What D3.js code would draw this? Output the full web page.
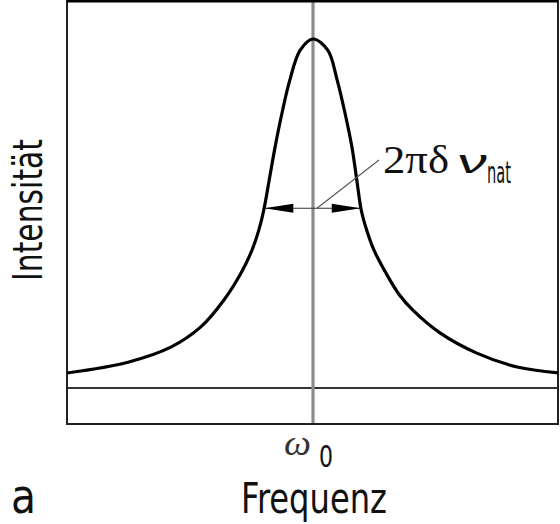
<!DOCTYPE html>
<html>
<head>
<meta charset="utf-8">
<script src="https://cdn.jsdelivr.net/npm/d3@7"></script>
<style>
  body { margin: 0; background: #fff; }
  svg { display: block; }
  .narrow { font-family: "Liberation Sans Narrow", "DejaVu Sans Condensed", "Liberation Sans", sans-serif; fill: #111; }
  .serif { font-family: "Liberation Serif", "DejaVu Serif", serif; fill: #111; }
</style>
</head>
<body>
<svg width="560" height="524"></svg>
<script>
// Frequenz relativ zu omega0 (in Einheiten der Halbwertsbreite), Intensität relativ zum Maximum
let freq = [-5.0, -3.76, -2.89, -2.28, -1.81, -1.46, -1.24, -1.10, -1.00, -0.89, -0.77, -0.63, -0.47, -0.26, 0,
            0.30, 0.49, 0.65, 0.79, 0.89, 0.98, 1.09, 1.24, 1.48, 1.75, 2.03, 2.58, 3.33, 4.15, 5.0];
let intensity = [0.043, 0.074, 0.117, 0.175, 0.252, 0.330, 0.395, 0.453, 0.510, 0.596, 0.691, 0.788, 0.883, 0.968, 1.0,
                 0.968, 0.883, 0.788, 0.691, 0.596, 0.510, 0.453, 0.395, 0.330, 0.268, 0.223, 0.158, 0.100, 0.060, 0.043];
let halfWidth = [-0.99, 0.97];   // Pfeilspitzen bei halber Höhe
let halfHeight = 0.515;
let xLabel = "Frequenz";
let yLabel = "Intensität";
let widthLabel = ["2πδ", "ν", "nat"];

let svg = d3.select("svg"),
    width = +svg.attr("width"),
    height = +svg.attr("height");

let box = {left: 67, right: 558, top: 1, bottom: 424};

let x = d3.scaleLinear().domain([-5, 5]).range([67, 559]);
let y = d3.scaleLinear().domain([0, 1]).range([388, 39]);

let data = freq.map(function(f, i) { return {f: f, v: intensity[i]}; });

svg.append("clipPath").attr("id", "clip")
  .append("rect")
    .attr("x", box.left).attr("y", box.top)
    .attr("width", box.right - box.left).attr("height", box.bottom - box.top);

// Grundlinie und Mittellinie
svg.append("line")
    .attr("x1", box.left).attr("x2", box.right)
    .attr("y1", y(0)).attr("y2", y(0))
    .style("stroke", "#333").style("stroke-width", 1.8);

svg.append("line")
    .attr("x1", x(0)).attr("x2", x(0))
    .attr("y1", box.top).attr("y2", box.bottom)
    .style("stroke", "#8c8c8c").style("stroke-width", 3.2);

// Rahmen
svg.append("rect")
    .attr("x", box.left).attr("y", box.top)
    .attr("width", box.right - box.left).attr("height", box.bottom - box.top)
    .style("fill", "none").style("stroke", "#222").style("stroke-width", 2);
svg.append("line")
    .attr("x1", box.left).attr("x2", box.right)
    .attr("y1", box.top).attr("y2", box.top)
    .style("stroke", "#000").style("stroke-width", 3);

// Kurve
let line = d3.line()
    .x(function(d) { return x(d.f); })
    .y(function(d) { return y(d.v); })
    .curve(d3.curveCatmullRom.alpha(0.5));

svg.append("path")
    .datum(data)
    .attr("clip-path", "url(#clip)")
    .attr("d", line)
    .style("fill", "none")
    .style("stroke", "#000")
    .style("stroke-width", 3.2);

// Halbwertsbreite
let ay = y(halfHeight);
svg.append("line")
    .attr("x1", x(halfWidth[0])).attr("x2", x(halfWidth[1]))
    .attr("y1", ay).attr("y2", ay)
    .style("stroke", "#333").style("stroke-width", 1);

let heads = svg.append("g").selectAll("path")
    .data(halfWidth)
    .enter().append("path")
      .attr("d", function(d) {
        let tip = x(d), dir = d < 0 ? 1 : -1, len = 29;
        return "M" + tip + "," + ay + "L" + (tip + dir * len) + "," + (ay - 4.5) +
               "L" + (tip + dir * len) + "," + (ay + 4.5) + "Z";
      })
      .style("fill", "#000");

// Hinweislinie zur Beschriftung
svg.append("line")
    .attr("x1", x(0) + 4).attr("y1", ay)
    .attr("x2", 379).attr("y2", 160)
    .style("stroke", "#555").style("stroke-width", 1.1);

svg.append("text").attr("class", "serif")
    .attr("x", 383).attr("y", 173)
    .style("font-size", "40px")
    .attr("textLength", 66).attr("lengthAdjust", "spacingAndGlyphs")
    .text(widthLabel[0]);
svg.append("text")
    .attr("transform", "translate(455,173) skewX(-14)")
    .style("font-family", "'Liberation Sans', 'DejaVu Sans', sans-serif")
    .style("fill", "#111")
    .style("font-size", "34px")
    .attr("textLength", 30).attr("lengthAdjust", "spacingAndGlyphs")
    .text(widthLabel[1]);
svg.append("text").attr("class", "narrow")
    .attr("x", 487).attr("y", 183)
    .style("font-size", "31px")
    .attr("textLength", 24).attr("lengthAdjust", "spacingAndGlyphs")
    .text(widthLabel[2]);

// omega0 unter der Mittellinie
svg.append("text").attr("class", "serif")
    .attr("x", 284).attr("y", 455)
    .style("font-size", "36px").style("font-style", "italic").style("fill", "#333")
    .attr("textLength", 27).attr("lengthAdjust", "spacingAndGlyphs")
    .text("ω");
svg.append("text").attr("class", "narrow")
    .attr("x", 319).attr("y", 467)
    .style("font-size", "30px")
    .attr("textLength", 14).attr("lengthAdjust", "spacingAndGlyphs")
    .text("0");

// Achsenbeschriftungen
svg.append("text").attr("class", "narrow")
    .attr("x", 241).attr("y", 513)
    .style("font-size", "42px")
    .attr("textLength", 146).attr("lengthAdjust", "spacingAndGlyphs")
    .text(xLabel);

svg.append("text").attr("class", "narrow")
    .attr("transform", "translate(42,281) rotate(-90)")
    .style("font-size", "41px")
    .attr("textLength", 142).attr("lengthAdjust", "spacingAndGlyphs")
    .text(yLabel);

svg.append("text").attr("class", "narrow")
    .attr("x", 11).attr("y", 513)
    .style("font-size", "48px")
    .attr("textLength", 25).attr("lengthAdjust", "spacingAndGlyphs")
    .text("a");
</script>
</body>
</html>
